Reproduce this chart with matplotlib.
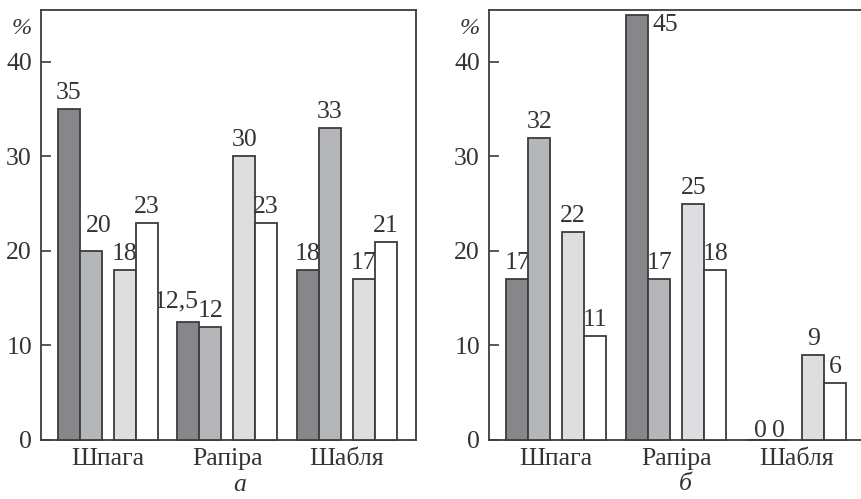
import matplotlib
matplotlib.use("Agg")
import matplotlib.pyplot as plt
from matplotlib.transforms import blended_transform_factory

plt.rcParams["font.family"] = ["Liberation Serif", "DejaVu Serif"]

# Weapon categories and the four compared series (dark, mid, light, white)
categories = ["Шпага", "Рапіра", "Шабля"]
panel_a = [
    [35, 12.5, 18],   # series 1
    [20, 12, 33],     # series 2
    [18, 30, 17],     # series 3
    [23, 23, 21],     # series 4
]
panel_b = [
    [17, 45, 0],
    [32, 17, 0],
    [22, 25, 9],
    [11, 18, 6],
]
yticks = [0, 10, 20, 30, 40]
panel_letters = ["а", "б"]

fills = ["#86878b", "#b5b6ba", "#dddee0", "#ffffff"]
edge = "#3c3c3c"
txt = "#333333"
offsets = [-0.326, -0.142, 0.142, 0.326]
width = 0.184
FS = 18.5
PX = 0.72  # points per pixel at 100 dpi

# per-label tweaks: (panel, series, group) -> (dx px, dy px)
nudges = {
    (0, 0, 1): (-12, 4),
    (0, 1, 0): (8, 9),
    (1, 0, 2): (3, -7),
    (1, 1, 2): (-1, -7),
}


def fmt(v):
    return f"{v:g}".replace(".", ",")


fig = plt.figure(figsize=(8.61, 4.99), dpi=100)
H = 499.0
W = 861.0
bottom = (H - 440) / H
top = (H - 10) / H
ax_a = fig.add_axes([41 / W, bottom, (416 - 41) / W, top - bottom])
ax_b = fig.add_axes([489 / W, bottom, 1.0 - 489 / W, top - bottom])

for p, (ax, data) in enumerate([(ax_a, panel_a), (ax_b, panel_b)]):
    xs = list(range(len(categories)))
    for s, vals in enumerate(data):
        pos = [x + offsets[s] for x in xs]
        bars = ax.bar(pos, vals, width=width, color=fills[s], edgecolor=edge,
                      linewidth=1.3, zorder=3)
        for b in bars:
            b.set_clip_on(False)
        for g, v in enumerate(vals):
            if p == 1 and s == 0 and g == 1:
                # tallest bar: value sits beside its top
                ax.annotate(fmt(v), xy=(pos[g] + width / 2, v),
                            xytext=(4 * PX, -16 * PX), textcoords="offset points",
                            ha="left", va="baseline", fontsize=FS, color=txt)
                continue
            dx, dy = nudges.get((p, s, g), (0, 0))
            ax.annotate(fmt(v), xy=(pos[g], v),
                        xytext=(dx * PX, (10 + dy) * PX), textcoords="offset points",
                        ha="center", va="baseline", fontsize=FS, color=txt)

    ax.set_ylim(0, 45.5)
    ax.set_xlim(-0.56, 2.58 if p == 0 else 2.54)
    ax.set_yticks(yticks)
    ax.set_xticks(xs)
    ax.set_xticklabels(categories)
    ax.tick_params(axis="y", direction="in", length=10 * PX, width=1.2,
                   color=edge, pad=6.5, labelsize=FS, labelcolor=txt)
    ax.tick_params(axis="x", length=0, pad=6, labelsize=FS, labelcolor=txt)
    for name, sp in ax.spines.items():
        sp.set_color(edge)
        sp.set_linewidth(1.3)
    if p == 1:
        ax.spines["right"].set_visible(False)
    tr = blended_transform_factory(ax.transAxes, ax.transData)
    ax.annotate("%", xy=(0, 43.5), xycoords=tr, xytext=(-9 * PX, 0),
                textcoords="offset points", ha="right", va="center",
                fontsize=FS - 1, color=txt, style="italic")

fig.text(240 / W, (H - 485) / H, panel_letters[0], ha="center", va="center",
         fontsize=FS, color=txt, style="italic")
fig.text(685 / W, (H - 484) / H, panel_letters[1], ha="center", va="center",
         fontsize=FS, color=txt, style="italic")

fig.savefig("out.png", dpi=100)
